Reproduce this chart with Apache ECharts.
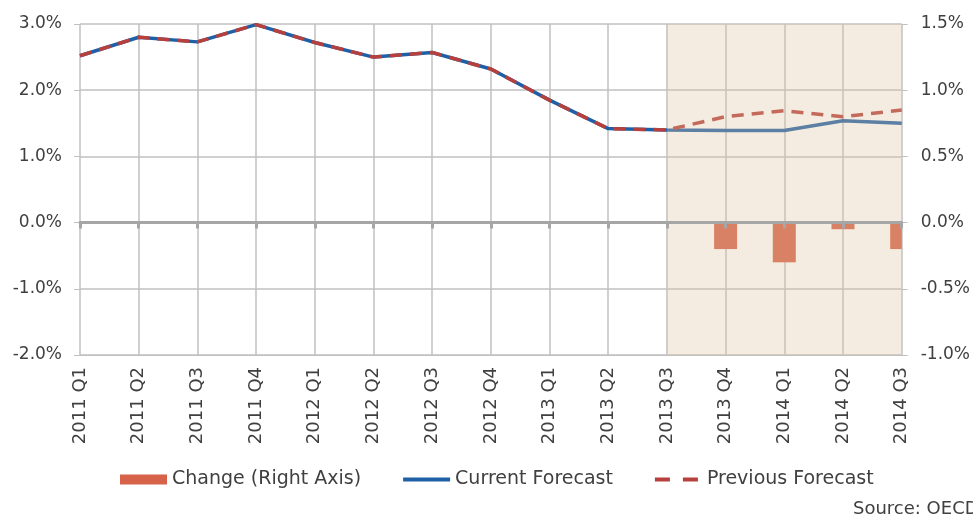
<!DOCTYPE html>
<html>
<head>
<meta charset="utf-8">
<script src="https://cdn.jsdelivr.net/npm/echarts@6/dist/echarts.min.js"></script>
<style>
  html, body { margin: 0; padding: 0; background: #fff; }
  #chart { width: 973px; height: 519px; }
</style>
</head>
<body>
<div id="chart"></div>
<script>
const categories = ['2011 Q1', '2011 Q2', '2011 Q3', '2011 Q4', '2012 Q1', '2012 Q2', '2012 Q3', '2012 Q4',
  '2013 Q1', '2013 Q2', '2013 Q3', '2013 Q4', '2014 Q1', '2014 Q2', '2014 Q3'];
const currentForecast = [2.52, 2.80, 2.73, 2.99, 2.72, 2.50, 2.57, 2.32, 1.85, 1.42, 1.40, 1.39, 1.39, 1.54, 1.50];
const previousForecast = [2.52, 2.80, 2.73, 2.99, 2.72, 2.50, 2.57, 2.32, 1.85, 1.42, 1.40, 1.60, 1.69, 1.60, 1.70];
const change = [null, null, null, null, null, null, null, null, null, null, null, -0.2, -0.3, -0.05, -0.2];
const leftTicks = { min: -2, max: 3, interval: 1 };
const rightTicks = { min: -1, max: 1.5, interval: 0.5 };
const forecastStart = '2013 Q3';
const forecastEnd = '2014 Q3';

const FONT = 'DejaVu Sans';
const TEXT = '#404040';
const GRID = '#c0c0c0';
const BAR_W = 23;

const chart = echarts.init(document.getElementById('chart'), null, { renderer: 'canvas' });

// bars sit on the category points (boundaryGap false), so clip them to the grid ourselves
function renderChangeBar(params, api) {
  const v = api.value(1);
  if (v == null || isNaN(v)) return null;
  const base = api.coord([api.value(0), 0]);
  const end = api.coord([api.value(0), v]);
  const cs = params.coordSys;
  const rect = echarts.graphic.clipRectByRect(
    { x: base[0] - BAR_W / 2, y: Math.min(base[1], end[1]), width: BAR_W, height: Math.abs(end[1] - base[1]) },
    { x: cs.x, y: cs.y, width: cs.width, height: cs.height }
  );
  if (!rect) return null;
  return { type: 'rect', shape: rect, style: { fill: api.visual('color') } };
}

chart.setOption({
  animation: false,
  backgroundColor: '#fff',
  textStyle: { fontFamily: FONT },
  grid: { left: 80, right: 70, top: 24, bottom: 164, containLabel: false },
  legend: {
    left: 115,
    top: 465,
    itemWidth: 47,
    itemHeight: 10,
    itemGap: 40,
    textStyle: { fontFamily: FONT, fontSize: 19, color: TEXT },
    data: [
      { name: 'Change (Right Axis)', icon: 'rect' },
      { name: 'Current Forecast', itemStyle: { opacity: 0 }, lineStyle: { width: 4 } },
      { name: 'Previous Forecast', itemStyle: { opacity: 0 }, lineStyle: { width: 4, type: [15, 13] } }
    ]
  },
  xAxis: [
    {
      type: 'category',
      data: categories,
      boundaryGap: false,
      position: 'bottom',
      axisLine: { onZero: false, lineStyle: { color: GRID, width: 1 } },
      axisTick: { show: false },
      axisLabel: { rotate: 90, margin: 12, fontSize: 18, color: TEXT, fontFamily: FONT, interval: 0 },
      splitLine: { show: true, interval: 0, lineStyle: { color: GRID, width: 1.5 } }
    },
    {
      type: 'category',
      data: categories,
      boundaryGap: false,
      position: 'bottom',
      z: 6,
      axisLine: { onZero: true, onZeroAxisIndex: 0, lineStyle: { color: '#a6a6a6', width: 3 } },
      axisTick: { show: true, interval: 0, length: 6, lineStyle: { color: '#a6a6a6', width: 3 } },
      axisLabel: { show: false, interval: 0 },
      splitLine: { show: false }
    }
  ],
  yAxis: [
    {
      type: 'value',
      min: leftTicks.min,
      max: leftTicks.max,
      interval: leftTicks.interval,
      axisLine: { show: false },
      axisTick: { show: true, length: 6, lineStyle: { color: GRID } },
      axisLabel: {
        margin: 18, fontSize: 17, color: TEXT, fontFamily: FONT,
        formatter: v => v.toFixed(1) + '%'
      },
      splitLine: { lineStyle: { color: GRID, width: 1.5 } }
    },
    {
      type: 'value',
      position: 'right',
      min: rightTicks.min,
      max: rightTicks.max,
      interval: rightTicks.interval,
      axisLine: { show: false },
      axisTick: { show: true, length: 6, lineStyle: { color: GRID } },
      axisLabel: {
        margin: 19, fontSize: 17, color: TEXT, fontFamily: FONT,
        formatter: v => v.toFixed(1) + '%'
      },
      splitLine: { show: false }
    }
  ],
  series: [
    {
      name: 'Change (Right Axis)',
      type: 'custom',
      xAxisIndex: 0,
      yAxisIndex: 1,
      renderItem: renderChangeBar,
      encode: { x: 0, y: 1 },
      itemStyle: { color: '#d6624a' },
      data: change.map((v, i) => [i, v])
    },
    {
      name: 'Current Forecast',
      type: 'line',
      xAxisIndex: 0,
      yAxisIndex: 0,
      symbol: 'none',
      lineStyle: { color: '#1f5fa6', width: 3.5 },
      itemStyle: { color: '#1f5fa6' },
      data: currentForecast
    },
    {
      name: 'Previous Forecast',
      type: 'line',
      xAxisIndex: 0,
      yAxisIndex: 0,
      symbol: 'none',
      lineStyle: { color: '#b7403c', width: 3.5, type: [12, 8] },
      itemStyle: { color: '#b7403c' },
      data: previousForecast,
      markArea: {
        z: 4,
        silent: true,
        itemStyle: { color: 'rgba(222, 196, 160, 0.32)' },
        data: [[{ xAxis: forecastStart }, { xAxis: forecastEnd }]]
      }
    }
  ],
  graphic: [
    {
      type: 'text',
      left: 853,
      top: 500,
      style: { text: 'Source: OECD', font: '18px "DejaVu Sans"', fill: TEXT }
    }
  ]
});
</script>
</body>
</html>
